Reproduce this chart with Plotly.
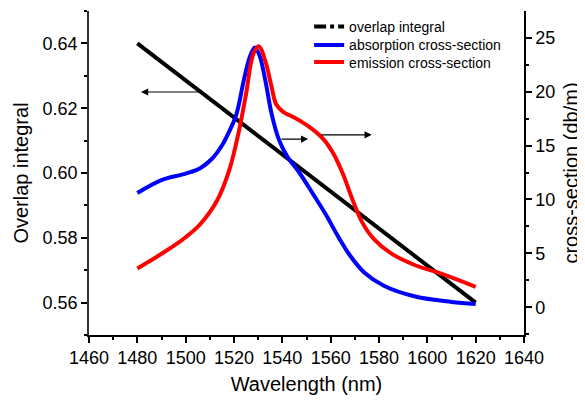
import plotly.graph_objects as go

# ---- data ----
overlap_wl = [1480, 1620]
overlap_val = [0.640, 0.560]

abs_wl = [1480, 1490, 1500, 1506, 1511, 1515, 1518, 1521, 1524, 1526.5, 1528.6, 1530.5,
          1533, 1535.5, 1538.5, 1542, 1547, 1553, 1558, 1563, 1568, 1574,
          1582, 1595, 1610, 1620]
abs_val = [10.6, 11.8, 12.4, 12.9, 13.8, 15.0, 16.3, 17.9, 21.0, 23.2, 24.1, 23.4,
           21.0, 18.0, 15.6, 14.0, 12.5, 10.4, 8.6, 6.6, 4.8, 3.2,
           2.0, 1.0, 0.5, 0.3]

em_wl = [1480, 1491, 1500, 1506, 1513, 1518, 1522, 1525, 1528, 1530.3, 1533, 1535.5,
         1537.5, 1540.5, 1544, 1548, 1552, 1557, 1561, 1565, 1569, 1573, 1578,
         1585, 1595, 1606, 1620]
em_val = [3.6, 5.1, 6.5, 7.7, 9.9, 12.7, 16.3, 19.8, 23.5, 24.2, 22.8, 20.5,
          18.8, 18.1, 17.7, 17.2, 16.6, 15.6, 14.3, 12.4, 10.0, 7.9, 6.3,
          5.0, 3.9, 3.1, 1.9]

series_names = ["overlap integral", "absorption cross-section", "emission cross-section"]

# arrows: (head_x, head_y, tail_x, tail_y)
arrow_left = (1481.5, 0.625, 1506, 0.625)
arrow_right1 = (1550.7, 15.6, 1539, 15.6)
arrow_right2 = (1577, 16.0, 1555.6, 16.0)

FONT = "Arial"

fig = go.Figure()
fig.add_trace(go.Scatter(x=overlap_wl, y=overlap_val, mode="lines",
                         line=dict(color="black", width=4), showlegend=False,
                         xaxis="x", yaxis="y"))
fig.add_trace(go.Scatter(x=[None], y=[None], mode="lines", name=series_names[0],
                         line=dict(color="black", width=4, dash="dashdot"),
                         xaxis="x", yaxis="y", legend="legend"))
fig.add_trace(go.Scatter(x=abs_wl, y=abs_val, mode="lines", name=series_names[1],
                         line=dict(color="#0000ff", width=4, shape="spline", smoothing=1),
                         xaxis="x", yaxis="y2", legend="legend2"))
fig.add_trace(go.Scatter(x=em_wl, y=em_val, mode="lines", name=series_names[2],
                         line=dict(color="#ff0000", width=4, shape="spline", smoothing=1),
                         xaxis="x", yaxis="y2", legend="legend3"))

def arrow(a, yref):
    hx, hy, tx, ty = a
    return dict(x=hx, y=hy, ax=tx, ay=ty, xref="x", yref=yref, axref="x", ayref=yref,
                text="", showarrow=True, arrowhead=2, arrowsize=1.2, arrowwidth=1.2,
                arrowcolor="black")

def leg(y):
    return dict(x=0.506, y=y, xanchor="left", yanchor="middle",
                bgcolor="rgba(0,0,0,0)", font=dict(size=14, family=FONT),
                itemwidth=30, borderwidth=0)

# page body has an 8px default margin, so the figure is 8px smaller
fig.update_layout(
    width=577, height=394,
    margin=dict(l=81, r=61, t=3, b=67, autoexpand=False),
    paper_bgcolor="white", plot_bgcolor="white",
    font=dict(family=FONT, color="black"),
    showlegend=True,
    legend=leg(0.951), legend2=leg(0.894), legend3=leg(0.841),
    xaxis=dict(range=[1460, 1640], dtick=20, tick0=1460, ticks="outside", ticklen=6,
               tickwidth=1.5, tickcolor="black", automargin=False,
               minor=dict(dtick=10, ticks="outside", ticklen=3, tickwidth=1.5, tickcolor="black"),
               showline=True, linecolor="black", linewidth=1.5, showgrid=False, zeroline=False,
               tickfont=dict(size=18), title=dict(text="Wavelength (nm)", font=dict(size=20), standoff=10)),
    xaxis2=dict(range=[1460, 1640], overlaying="x", side="top", dtick=10, ticks="inside",
                ticklen=4, tickwidth=1.5, tickcolor="black", showticklabels=False, automargin=False,
                showline=True, linecolor="black", linewidth=1.5, showgrid=False, zeroline=False),
    yaxis=dict(range=[0.55, 0.65], dtick=0.02, tick0=0.56, tickformat=".2f", ticks="outside",
               ticklen=6, tickwidth=1.5, tickcolor="black", automargin=False,
               minor=dict(dtick=0.01, tick0=0.55, ticks="outside", ticklen=3, tickwidth=1.5, tickcolor="black"),
               showline=True, linecolor="#333333", linewidth=1.5, showgrid=False, zeroline=False,
               tickfont=dict(size=18), title=dict(text="Overlap integral", font=dict(size=20), standoff=9)),
    yaxis2=dict(range=[-2.57, 27.48], overlaying="y", side="right", dtick=5, tick0=0,
                ticks="outside", ticklen=6, tickwidth=1.5, tickcolor="black", automargin=False,
                minor=dict(dtick=2.5, tick0=0, ticks="outside", ticklen=3, tickwidth=1.5, tickcolor="black"),
                showline=True, linecolor="black", linewidth=1.5, showgrid=False, zeroline=False,
                tickfont=dict(size=18), title=dict(text="cross-section (db/m)", font=dict(size=20), standoff=10)),
    annotations=[arrow(arrow_left, "y"), arrow(arrow_right1, "y2"), arrow(arrow_right2, "y2")],
)
fig.write_html("out.html")
